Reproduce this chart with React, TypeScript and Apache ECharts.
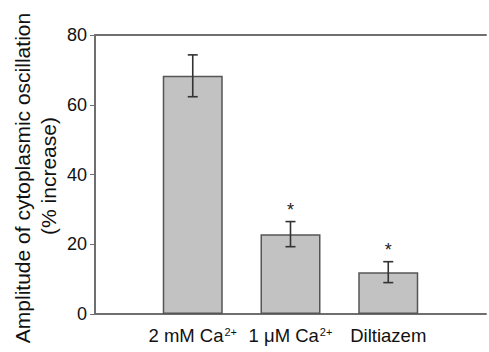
import React, { useEffect, useRef } from "react";
import * as echarts from "echarts";

const categories = ["2 mM Ca", "1 μM Ca", "Diltiazem"];
const superscripts = ["2+", "2+", ""];
const means = [68.3, 22.9, 12.0];
const errors = [6.0, 3.6, 3.0];
const significant = [false, true, true];
const yTicks = [0, 20, 40, 60, 80];
const yTitle = ["Amplitude of cytoplasmic oscillation", "(% increase)"];

const FONT = "Liberation Sans, Arial, sans-serif";

export default function App() {
  const ref = useRef<HTMLDivElement>(null);
  useEffect(() => {
    if (!ref.current) return;
    const chart = echarts.init(ref.current, undefined, { renderer: "svg" });
    const xData = ["", ...categories.map((c, i) => (superscripts[i] ? `${c}|${superscripts[i]}` : c)), ""];
    const barData: (number | null)[] = [null, ...means, null];
    const errData = means.map((m, i) => [i + 1, m, errors[i], significant[i] ? 1 : 0]);
    const option: any = {
      animation: false,
      textStyle: { fontFamily: FONT },
      grid: { left: 95, top: 35, width: 396, height: 279, containLabel: false },
      xAxis: [
        {
          type: "category",
          data: xData,
          boundaryGap: false,
          axisLine: { show: true, lineStyle: { color: "#6f6f6f", width: 2 } },
          axisTick: { show: false },
          axisLabel: {
            interval: 0,
            margin: 12,
            color: "#111",
            fontSize: 18.5,
            fontFamily: FONT,
            formatter: (v: string) => {
              if (!v) return "";
              const parts = v.split("|");
              if (parts.length === 2) return `{b|${parts[0]}}{s|${parts[1]}}`;
              return `{b|${parts[0]}}`;
            },
            rich: {
              b: { fontSize: 18.5, fontFamily: FONT, color: "#111" },
              s: { fontSize: 11, fontFamily: FONT, color: "#111", verticalAlign: "top", padding: [0, 0, 0, 1] },
            },
          },
          splitLine: { show: false },
        },
        {
          type: "category",
          position: "top",
          data: xData,
          boundaryGap: false,
          axisLine: { show: true, onZero: false, lineStyle: { color: "#6f6f6f", width: 2 } },
          axisTick: { show: false },
          axisLabel: { show: false },
        },
      ],
      yAxis: {
        type: "value",
        min: yTicks[0],
        max: yTicks[yTicks.length - 1],
        interval: 20,
        axisLine: { show: true, lineStyle: { color: "#6f6f6f", width: 2 } },
        axisTick: { show: true, inside: false, length: 5, lineStyle: { color: "#6f6f6f", width: 1 } },
        axisLabel: { margin: 8, color: "#111", fontSize: 18, fontFamily: FONT },
        splitLine: { show: false },
      },
      graphic: [
        {
          type: "text",
          x: 22,
          y: 178,
          rotation: Math.PI / 2,
          style: {
            text: yTitle[0],
            fontSize: 21,
            fontFamily: FONT,
            fill: "#111",
            align: "center",
            verticalAlign: "middle",
          },
        },
        {
          type: "text",
          x: 48,
          y: 176,
          rotation: Math.PI / 2,
          style: {
            text: yTitle[1],
            fontSize: 21,
            fontFamily: FONT,
            fill: "#111",
            align: "center",
            verticalAlign: "middle",
          },
        },
      ],
      series: [
        {
          type: "bar",
          data: barData,
          barWidth: 60,
          itemStyle: { color: "#c2c2c2", borderColor: "#555", borderWidth: 1.5 },
          z: 2,
        },
        {
          type: "custom",
          data: errData,
          z: 3,
          renderItem: (params: any, api: any) => {
            const x = api.value(0);
            const m = api.value(1);
            const e = api.value(2);
            const sig = api.value(3);
            const top = api.coord([x, m + e]);
            const bot = api.coord([x, m - e]);
            const cap = 5;
            const style = { stroke: "#333", lineWidth: 1.6 };
            const children: any[] = [
              { type: "line", shape: { x1: top[0], y1: top[1], x2: bot[0], y2: bot[1] }, style },
              { type: "line", shape: { x1: top[0] - cap, y1: top[1], x2: top[0] + cap, y2: top[1] }, style },
              { type: "line", shape: { x1: bot[0] - cap, y1: bot[1], x2: bot[0] + cap, y2: bot[1] }, style },
            ];
            if (sig) {
              children.push({
                type: "text",
                x: top[0],
                y: top[1] - 12,
                style: {
                  text: "*",
                  fontSize: 18,
                  fontFamily: FONT,
                  fill: "#222",
                  align: "center",
                  verticalAlign: "middle",
                },
              });
            }
            return { type: "group", children };
          },
        },
      ],
    };
    chart.setOption(option);
    return () => chart.dispose();
  }, []);
  return (
    <div
      ref={ref}
      style={{ position: "fixed", left: 0, top: 0, width: 489, height: 352, background: "#fff" }}
    />
  );
}
